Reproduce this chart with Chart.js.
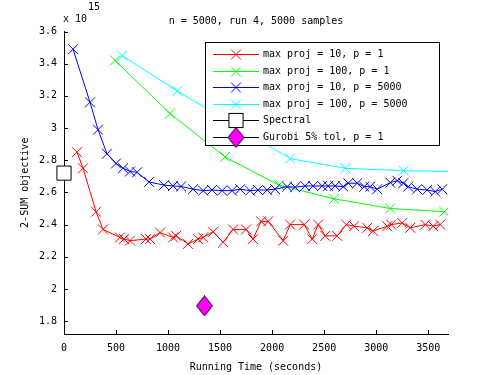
<!DOCTYPE html>
<html lang="en">
<head>
    <meta charset="UTF-8">
    <title>2-SUM objective vs running time</title>
    <script src="https://cdn.jsdelivr.net/npm/chart.js"></script>
    <style>
        body {
            margin: 0;
            background: #fff;
        }
        #wrap {
            width: 495px;
            height: 375px;
        }
    </style>
</head>
<body>
    <div id="wrap">
        <canvas id="sumChart" width="495" height="375"></canvas>
    </div>

    <script>
        // data (objective in units of 1e15)
        const redTime = [125, 183, 308, 375, 538, 577, 635, 788, 827, 923, 1048, 1077, 1192, 1288, 1337, 1433, 1529, 1625, 1750, 1817,
            1894, 1962, 2106, 2173, 2308, 2385, 2442, 2510, 2625, 2712, 2788, 2913, 2971, 3106, 3144, 3250, 3327, 3471, 3548, 3615];
        const redObj = [2.85, 2.75, 2.48, 2.37, 2.32, 2.31, 2.30, 2.31, 2.31, 2.35, 2.32, 2.33, 2.28, 2.31, 2.32, 2.355, 2.29, 2.37, 2.37, 2.31,
            2.42, 2.42, 2.30, 2.40, 2.40, 2.31, 2.40, 2.33, 2.33, 2.40, 2.39, 2.38, 2.36, 2.39, 2.40, 2.41, 2.38, 2.40, 2.39, 2.40];

        const greenTime = [490, 1019, 1548, 2067, 2596, 3135, 3654];
        const greenObj = [3.42, 3.09, 2.82, 2.645, 2.56, 2.50, 2.48];

        const blueTime = [87, 250, 327, 413, 500, 567, 635, 702, 817, 962, 1048, 1125, 1240, 1337, 1423, 1519, 1615, 1692, 1788, 1865,
            1952, 2029, 2144, 2221, 2317, 2394, 2481, 2538, 2606, 2683, 2731, 2817, 2885, 2942, 3010, 3135, 3202, 3260, 3308, 3394,
            3490, 3567, 3635];
        const blueObj = [3.49, 3.16, 2.99, 2.84, 2.78, 2.75, 2.73, 2.725, 2.665, 2.645, 2.64, 2.637, 2.62, 2.611, 2.615, 2.611, 2.611, 2.62, 2.611, 2.615,
            2.615, 2.62, 2.636, 2.632, 2.64, 2.64, 2.64, 2.64, 2.64, 2.636, 2.657, 2.657, 2.636, 2.636, 2.62, 2.661, 2.673, 2.657, 2.636, 2.62,
            2.615, 2.605, 2.62];

        const cyanTime = [558, 1089, 2173, 2702, 3263, 3800];
        const cyanObj = [3.45, 3.23, 2.81, 2.75, 2.735, 2.73];

        const spectralTime = [0];
        const spectralObj = [2.72];
        const gurobiTime = [1350];
        const gurobiObj = [1.895];

        const labels = ['max proj = 10, p = 1', 'max proj = 100, p = 1', 'max proj = 10, p = 5000',
            'max proj = 100, p = 5000', 'Spectral', 'Gurobi 5% tol, p = 1'];

        const xTicks = [0, 500, 1000, 1500, 2000, 2500, 3000, 3500];
        const yTicks = [1.8, 2, 2.2, 2.4, 2.6, 2.8, 3, 3.2, 3.4, 3.6];

        const FONT = '"DejaVu Sans Mono", monospace';
        Chart.defaults.font.family = FONT;
        Chart.defaults.font.size = 10;
        Chart.defaults.color = '#000';

        function pts(xs, ys) {
            return xs.map((x, i) => ({ x: x, y: ys[i] }));
        }

        // magenta diamond marker, a bit taller than wide
        const diamond = document.createElement('canvas');
        diamond.width = 17;
        diamond.height = 21;
        (function () {
            let c = diamond.getContext('2d');
            c.beginPath();
            c.moveTo(8.5, 0.5);
            c.lineTo(16.5, 10.5);
            c.lineTo(8.5, 20.5);
            c.lineTo(0.5, 10.5);
            c.closePath();
            c.fillStyle = '#ff00ff';
            c.fill();
            c.strokeStyle = '#000';
            c.lineWidth = 1;
            c.stroke();
        })();

        function lineSet(label, xs, ys, color) {
            return {
                label: label,
                data: pts(xs, ys),
                borderColor: color,
                backgroundColor: color,
                borderWidth: 1,
                showLine: true,
                tension: 0,
                pointStyle: 'crossRot',
                pointRadius: 7,
                pointBorderWidth: 1,
                pointBorderColor: color
            };
        }

        const datasets = [
            lineSet(labels[0], redTime, redObj, '#ff0000'),
            lineSet(labels[1], greenTime, greenObj, '#00ff00'),
            lineSet(labels[2], blueTime, blueObj, '#0000ff'),
            lineSet(labels[3], cyanTime, cyanObj, '#00ffff'),
            {
                label: labels[4],
                data: pts(spectralTime, spectralObj),
                showLine: false,
                borderColor: '#000',
                pointStyle: 'rect',
                pointRadius: 10,
                pointBorderWidth: 1,
                pointBorderColor: '#000',
                pointBackgroundColor: '#fff',
                clip: false
            },
            {
                label: labels[5],
                data: pts(gurobiTime, gurobiObj),
                showLine: false,
                borderColor: '#000',
                pointStyle: diamond,
                pointRadius: 10,
                clip: false
            }
        ];
        // gnuplot draws later series on top
        datasets.forEach((d, i) => { d.order = datasets.length - i; });
        datasets[3].clip = { left: false, top: false, right: 0, bottom: false };

        // inward tick marks on left and bottom axes
        const tickMarks = {
            id: 'tickMarks',
            afterDatasetsDraw(chart) {
                const ctx = chart.ctx;
                const xs = chart.scales.x, ys = chart.scales.y;
                const a = chart.chartArea;
                ctx.save();
                ctx.strokeStyle = '#000';
                ctx.lineWidth = 1;
                ctx.beginPath();
                xTicks.forEach(v => {
                    let px = Math.round(xs.getPixelForValue(v)) + 0.5;
                    ctx.moveTo(px, a.bottom);
                    ctx.lineTo(px, a.bottom - 4);
                });
                yTicks.forEach(v => {
                    let py = Math.round(ys.getPixelForValue(v)) + 0.5;
                    ctx.moveTo(a.left, py);
                    ctx.lineTo(a.left + 4, py);
                });
                ctx.stroke();
                ctx.restore();
            }
        };

        function drawMarker(ctx, ds, x, y) {
            ctx.save();
            ctx.lineWidth = 1;
            if (ds.pointStyle === 'crossRot') {
                let h = ds.pointRadius * Math.SQRT1_2;
                ctx.strokeStyle = ds.borderColor;
                ctx.beginPath();
                ctx.moveTo(x - h, y - h); ctx.lineTo(x + h, y + h);
                ctx.moveTo(x + h, y - h); ctx.lineTo(x - h, y + h);
                ctx.stroke();
            } else if (ds.pointStyle === 'rect') {
                let h = ds.pointRadius * Math.SQRT1_2;
                ctx.fillStyle = ds.pointBackgroundColor;
                ctx.strokeStyle = '#000';
                ctx.fillRect(x - h, y - h, 2 * h, 2 * h);
                ctx.strokeRect(x - h, y - h, 2 * h, 2 * h);
            } else {
                let img = ds.pointStyle;
                ctx.drawImage(img, x - img.width / 2, y - img.height / 2);
            }
            ctx.restore();
        }

        // gnuplot style key: line sample with marker, then text, inside a box
        const keyBox = {
            id: 'keyBox',
            afterDraw(chart) {
                const ctx = chart.ctx;
                const left = 205.5, top = 42.5, w = 234, h = 103;
                ctx.save();
                ctx.fillStyle = '#fff';
                ctx.fillRect(left, top, w, h);
                ctx.strokeStyle = '#000';
                ctx.lineWidth = 1;
                ctx.strokeRect(left, top, w, h);
                chart.data.datasets.forEach((ds, i) => {
                    let y = Math.round(54 + i * 16.5) + 0.5;
                    ctx.strokeStyle = ds.borderColor;
                    ctx.beginPath();
                    ctx.moveTo(213, y);
                    ctx.lineTo(259, y);
                    ctx.stroke();
                    drawMarker(ctx, ds, 236, y);
                    ctx.fillStyle = '#000';
                    ctx.font = '10px ' + FONT;
                    ctx.textAlign = 'left';
                    ctx.textBaseline = 'middle';
                    ctx.fillText(ds.label, 263, y);
                });
                ctx.restore();
            }
        };

        // the "x 10^15" multiplier above the y axis
        const expLabel = {
            id: 'expLabel',
            afterDraw(chart) {
                const ctx = chart.ctx;
                ctx.save();
                ctx.fillStyle = '#000';
                ctx.font = '10px ' + FONT;
                ctx.textAlign = 'left';
                ctx.textBaseline = 'middle';
                ctx.fillText('x 10', 63, 19);
                ctx.fillText('15', 88, 7);
                ctx.restore();
            }
        };

        new Chart(document.getElementById('sumChart').getContext('2d'), {
            type: 'scatter',
            data: { datasets: datasets },
            options: {
                responsive: false,
                animation: false,
                events: [],
                layout: { padding: { left: 0, right: 47, top: 0, bottom: 0 } },
                plugins: {
                    legend: { display: false },
                    tooltip: { enabled: false },
                    title: {
                        display: true,
                        text: 'n = 5000, run 4, 5000 samples',
                        fullSize: false,
                        color: '#000',
                        font: { family: FONT, size: 10, weight: 'normal' },
                        padding: { top: 15, bottom: 4.5 }
                    }
                },
                scales: {
                    x: {
                        type: 'linear',
                        min: 0,
                        max: 3690,
                        grid: { display: true, drawOnChartArea: false, drawTicks: false },
                        border: { display: true, color: '#000', width: 1 },
                        afterBuildTicks: s => { s.ticks = xTicks.map(v => ({ value: v })); },
                        afterFit: s => { s.height = 41; },
                        ticks: {
                            padding: 8,
                            maxRotation: 0,
                            color: '#000',
                            callback: v => String(v)
                        },
                        title: {
                            display: true,
                            text: 'Running Time (seconds)',
                            color: '#000',
                            padding: { top: 0, bottom: 2 }
                        }
                    },
                    y: {
                        type: 'linear',
                        min: 1.72,
                        max: 3.6,
                        grid: { display: true, drawOnChartArea: false, drawTicks: false },
                        border: { display: true, color: '#000', width: 1 },
                        afterBuildTicks: s => { s.ticks = yTicks.map(v => ({ value: v })); },
                        afterFit: s => { s.width = 64; },
                        ticks: {
                            padding: 7,
                            color: '#000',
                            callback: v => String(Number(v.toFixed(1)))
                        },
                        title: {
                            display: true,
                            text: '2-SUM objective',
                            color: '#000',
                            padding: { top: 19, bottom: 0 }
                        }
                    }
                }
            },
            plugins: [tickMarks, keyBox, expLabel]
        });
    </script>
</body>
</html>
